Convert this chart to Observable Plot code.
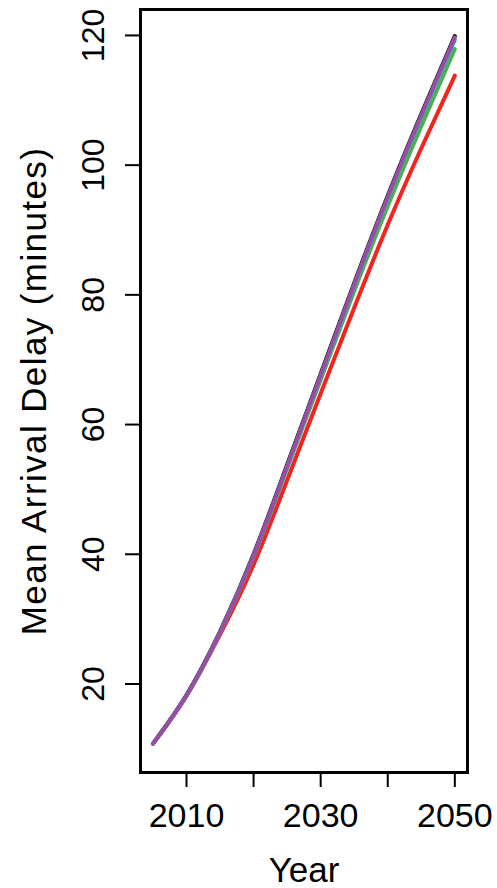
<!DOCTYPE html>
<html>
<head>
<meta charset="utf-8">
<script src="https://cdn.jsdelivr.net/npm/d3@7"></script>
<script src="https://cdn.jsdelivr.net/npm/@observablehq/plot@0.6"></script>
<style>
  html, body { margin: 0; padding: 0; background: #fff; }
</style>
</head>
<body>
<div id="chart"></div>
<script>
// ---- data ----
const years = [2005, 2010, 2015, 2020, 2025, 2030, 2035, 2040, 2045, 2050];
const seriesBlack  = [10.8, 18.3, 28.1, 40.0, 53.8, 67.8, 81.8, 95.3, 107.9, 119.9];
const seriesRed    = [10.8, 18.2, 27.6, 38.4, 51.4, 64.8, 78.0, 90.8, 102.6, 113.8];
const seriesGreen  = [10.8, 18.2, 27.9, 39.6, 53.2, 66.9, 80.6, 93.7, 106.0, 117.9];
const seriesBlue   = [10.8, 18.2, 28.0, 39.8, 53.5, 67.4, 81.4, 94.9, 107.4, 119.3];
const seriesPurple = [10.8, 18.2, 28.0, 39.8, 53.6, 67.6, 81.6, 95.1, 107.7, 119.7];

const xTickValues = [2010, 2020, 2030, 2040, 2050];
const xTickLabels = ["2010", "", "2030", "", "2050"];
const yTickValues = [20, 40, 60, 80, 100, 120];
const yTickLabels = ["20", "40", "60", "80", "100", "120"];
const xTitle = "Year";
const yTitle = "Mean Arrival Delay (minutes)";

const seriesList = [
  {values: seriesRed, color: "#f5231d"},
  {values: seriesGreen, color: "#4daf4a"},
  {values: seriesBlack, color: "#000000"},
  {values: seriesBlue, color: "#3aa6dd"},
  {values: seriesPurple, color: "#984ea3"}
];

const font = "'Liberation Sans', Arial, Helvetica, sans-serif";

const lineMarks = seriesList.map(s =>
  Plot.line(years.map((yr, i) => ({year: yr, value: s.values[i]})), {
    x: "year", y: "value", stroke: s.color, strokeWidth: 4,
    curve: "natural", strokeLinecap: "round", strokeLinejoin: "round"
  })
);

const chart = Plot.plot({
  width: 497,
  height: 888,
  marginLeft: 140,
  marginRight: 30,
  marginTop: 9,
  marginBottom: 116,
  style: {fontFamily: font, background: "#fff", color: "#000"},
  x: {domain: [2003.14, 2051.89]},
  y: {domain: [6.35, 124.0]},
  marks: [
    ...lineMarks,
    Plot.frame({stroke: "#000", strokeWidth: 3}),
    Plot.axisX({
      ticks: xTickValues, tickSize: 15, tickPadding: 15, strokeWidth: 2,
      tickFormat: d => xTickLabels[xTickValues.indexOf(d)],
      fontSize: 34, label: null
    }),
    Plot.axisY({
      ticks: yTickValues, tickSize: 15, tickPadding: 22, tickRotate: -90, strokeWidth: 2,
      tickFormat: d => yTickLabels[yTickValues.indexOf(d)],
      fontSize: 32, label: null
    }),
    Plot.text([xTitle], {text: d => d, frameAnchor: "bottom", textAnchor: "middle", dy: 109, lineAnchor: "bottom", fontSize: 35}),
    Plot.text([yTitle], {text: d => d, frameAnchor: "left", textAnchor: "middle", dx: -95, rotate: -90, lineAnchor: "bottom", fontSize: 35})
  ]
});

d3.select(chart).selectAll("text").filter(function() { return this.textContent === yTitle; })
  .style("letter-spacing", "1.4px");

document.getElementById("chart").appendChild(chart);
</script>
</body>
</html>
